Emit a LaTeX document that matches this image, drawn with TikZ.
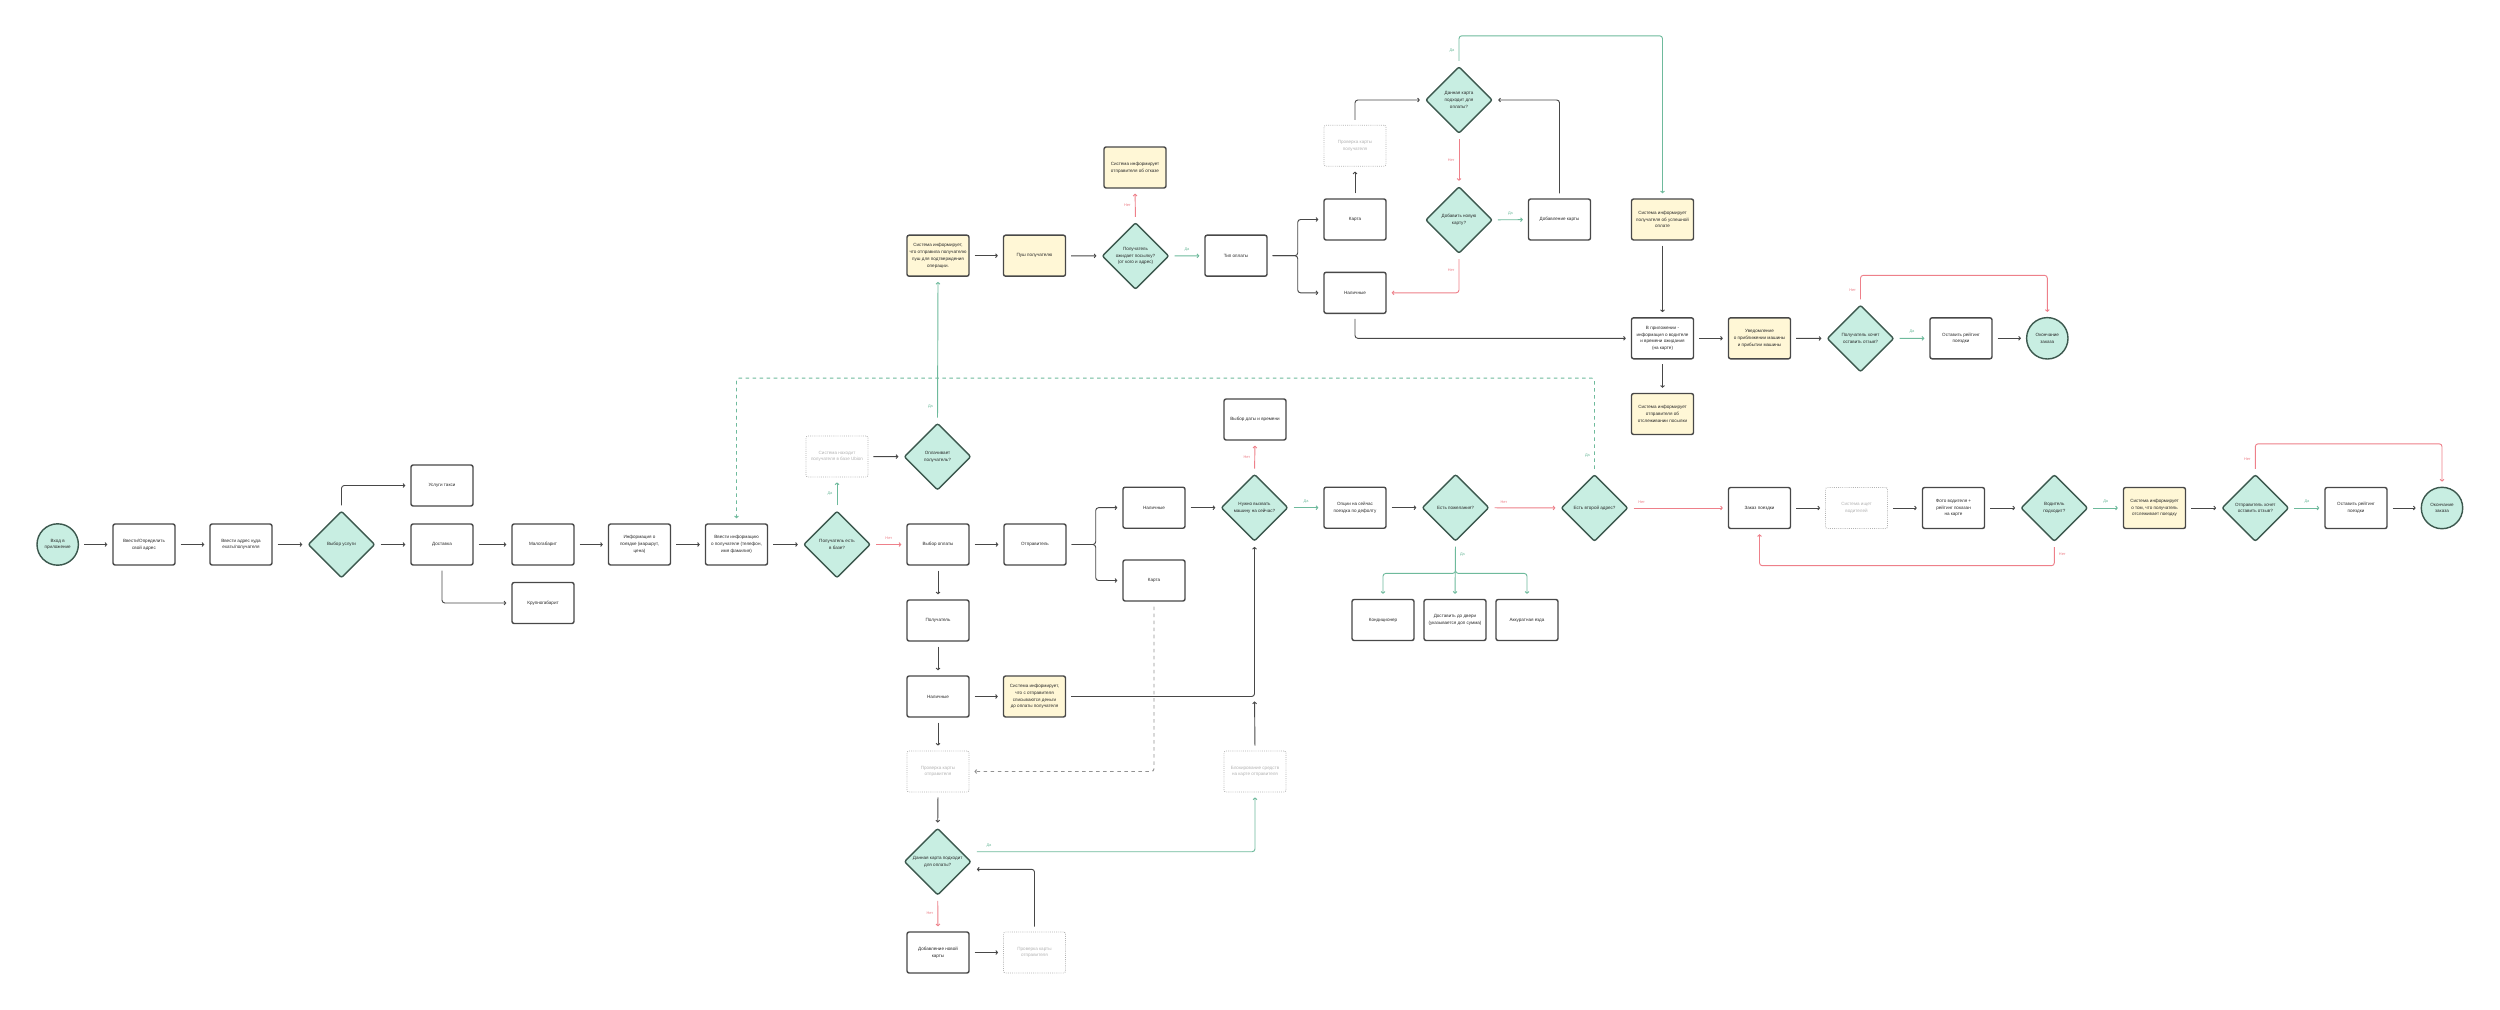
\documentclass[tikz,border=0pt]{standalone}
\usepackage{fontspec}
\setmainfont{Liberation Sans}
\usetikzlibrary{shapes.geometric, arrows.meta, calc}
\definecolor{fcline}{RGB}{72,72,72}
\definecolor{fctext}{RGB}{40,40,40}
\definecolor{fcmint}{RGB}{200,238,226}
\definecolor{fcmintdraw}{RGB}{60,88,78}
\definecolor{fcyellow}{RGB}{255,247,214}
\definecolor{fcgreen}{RGB}{110,186,156}
\definecolor{fcred}{RGB}{238,128,138}
\definecolor{fcghost}{RGB}{178,178,178}

\begin{document}
\begin{tikzpicture}[
		% 1 unit = 1 px of the layout
		x=0.05cm, y=-0.05cm,
		font=\fontsize{6.5}{9.6}\selectfont,
		% styles
		box/.style={rectangle, draw=fcline, line width=2pt, rounded corners=3pt, minimum width=3.1cm, minimum height=2.05cm, align=center, fill=white, text=fctext, inner sep=2pt},
		note/.style={box, fill=fcyellow},
		ghost/.style={box, draw=fcghost, text=fcghost, line width=1.2pt, dash pattern=on 1.2pt off 1.8pt},
		decision/.style={diamond, aspect=1, draw=fcmintdraw, fill=fcmint, line width=2pt, rounded corners=3pt, minimum width=3.35cm, minimum height=3.35cm, inner sep=0pt, align=center, text=fctext},
		terminal/.style={circle, draw=fcmintdraw, fill=fcmint, line width=2pt, minimum size=2.07cm, inner sep=0pt, align=center, text=fctext},
		arrow/.style={-{Straight Barb[length=2.5pt,width=5.5pt]}, line width=1.3pt, draw=fcline, rounded corners=4pt, shorten <=7pt, shorten >=7pt},
		yes/.style={arrow, draw=fcgreen},
		no/.style={arrow, draw=fcred},
		yesdash/.style={yes, dash pattern=on 5pt off 5pt},
		greydash/.style={arrow, draw=fcline!60, dash pattern=on 5pt off 5pt},
		lbl/.style={font=\fontsize{5.5}{6}\selectfont, inner sep=1pt},
		yeslbl/.style={lbl, text=fcgreen},
		nolbl/.style={lbl, text=fcred}
		]
		
		\fill[white, use as bounding box] (0,0) rectangle (2500,1010);
		
		% ==========================================
		% Начало: адрес и услуга
		% ==========================================
		\node[terminal] (start) at (57.7,544.5) {Вход в\\приложение};
		\node[box] (myaddr) at (144,544.5) {Ввести/Определить\\свой адрес};
		\node[box] (destaddr) at (241,544.5) {Ввести адрес куда\\ехать/получателя};
		\node[decision] (service) at (341.5,544.5) {Выбор услуги};
		\node[box] (taxi) at (442,485.5) {Услуги такси};
		\node[box] (delivery) at (442,544.5) {Доставка};
		\node[box] (small) at (543,544.5) {Малогабарит};
		\node[box] (large) at (543,603) {Крупногабарит};
		\node[box] (tripinfo) at (639.5,544.5) {Информация о\\поездке (маршрут,\\цена)};
		\node[box] (recipinfo) at (736.5,544.5) {Ввести информацию\\о получателе (телефон,\\имя фамилия)};
		
		\draw[arrow] (start) -- (myaddr);
		\draw[arrow] (myaddr) -- (destaddr);
		\draw[arrow] (destaddr) -- (service);
		\draw[arrow] (service) -- (delivery);
		\draw[arrow] (service.north) |- (taxi.west);
		\draw[arrow] (delivery) -- (small);
		\draw[arrow] (delivery.south) |- (large.west);
		\draw[arrow] (small) -- (tripinfo);
		\draw[arrow] (tripinfo) -- (recipinfo);
		
		% ==========================================
		% Получатель в базе / кто платит
		% ==========================================
		\node[decision] (inbase) at (837,544.5) {Получатель есть\\в базе?};
		\node[ghost] (found) at (837,456.5) {Система находит\\получателя в базе Ubion};
		\node[decision] (recippays) at (937.5,456.7) {Оплачивает\\получатель?};
		\node[note] (pushinfo) at (938,255.7) {Система информирует,\\что отправила получателю\\пуш для подтверждения\\операции.};
		\node[note] (push) at (1034.5,255.7) {Пуш получателю};
		\node[decision] (expects) at (1135.5,256) {Получатель\\ожидает посылку?\\(от кого и адрес)};
		\node[note] (refuse) at (1135,167.5) {Система информирует\\отправителя об отказе};
		\node[box] (paytype) at (1236,255.7) {Тип оплаты};
		
		\draw[arrow] (recipinfo) -- (inbase);
		\draw[yes] (inbase.north) -- node[yeslbl, left=5pt] (y-inbase) {Да} (found.south);
		\draw[arrow] (found) -- (recippays);
		\draw[yes] (recippays.north) -- node[yeslbl, pos=0.11, left=5pt] (y-recippays) {Да} (pushinfo.south);
		\draw[arrow] (pushinfo) -- (push);
		\draw[arrow] (push) -- (expects);
		\draw[no] (expects.north) -- node[nolbl, left=5pt] (n-expects) {Нет} (refuse.south);
		\draw[yes] (expects) -- node[yeslbl, above=5pt] (y-expects) {Да} (paytype);
		
		% ==========================================
		% Оплата получателем
		% ==========================================
		\node[box] (rcard) at (1355,219.5) {Карта};
		\node[box] (rcash) at (1355,292.8) {Наличные};
		\node[ghost] (rcheck) at (1355,145.7) {Проверка карты\\получателя};
		\node[decision] (rcardok) at (1459,100) {Данная карта\\подходит для\\оплаты?};
		\node[decision] (raddnew) at (1459,220) {Добавить новую\\карту?};
		\node[box] (raddcard) at (1559.5,219.5) {Добавление карты};
		\node[note] (paidinfo) at (1662.5,219.5) {Система информирует\\получателя об успешной\\оплате};
		
		\draw[arrow] (paytype.east) -- ++(30,0) |- (rcard.west);
		\draw[arrow] (paytype.east) -- ++(30,0) |- (rcash.west);
		\draw[arrow] (rcard.north) -- (rcheck.south);
		\draw[arrow] (rcheck.north) |- (rcardok.west);
		\draw[no] (rcardok.south) -- node[nolbl, left=5pt] (n-rcardok) {Нет} (raddnew.north);
		\draw[yes] (raddnew) -- node[yeslbl, above=5pt] (y-raddnew) {Да} (raddcard);
		\draw[arrow] (raddcard.north) |- (rcardok.east);
		\draw[no] (raddnew.south) |- node[nolbl, pos=0.21, left=5pt] (n-raddnew) {Нет} (rcash.east);
		\draw[yes] (rcardok.north) -- node[yeslbl, left=5pt] (y-rcardok) {Да} ++(0,-30) -| (paidinfo.north);
		
		% ==========================================
		% Отслеживание и отзыв получателя
		% ==========================================
		\node[box] (appinfo) at (1662.5,338.3) {В приложении -\\информация о водителе\\и времени ожидания\\(на карте)};
		\node[note] (trackinfo) at (1662.5,414) {Система информирует\\отправителя об\\отслеживании посылки};
		\node[note] (approach) at (1759.5,338.3) {Уведомление\\о приближении машины\\и прибытии машины};
		\node[decision] (rfeedback) at (1860.5,338.5) {Получатель хочет\\оставить отзыв?};
		\node[box] (rrate) at (1961,338.3) {Оставить рейтинг\\поездки};
		\node[terminal] (rend) at (2047.3,338.3) {Окончание\\заказа};
		
		\draw[arrow] (paidinfo.south) -- (appinfo.north);
		\draw[arrow] (rcash.south) |- (appinfo.west);
		\draw[arrow] (appinfo.south) -- (trackinfo.north);
		\draw[arrow] (appinfo) -- (approach);
		\draw[arrow] (approach) -- (rfeedback);
		\draw[yes] (rfeedback) -- node[yeslbl, above=5pt] (y-rfeedback) {Да} (rrate);
		\draw[arrow] (rrate) -- (rend);
		\draw[no] (rfeedback.north) -- node[nolbl, left=5pt] (n-rfeedback) {Нет} ++(0,-29) -| (rend.north);
		
		% ==========================================
		% Оплата отправителем
		% ==========================================
		\node[box] (choosepay) at (938,544.5) {Выбор оплаты};
		\node[box] (sender) at (1035,544.5) {Отправитель};
		\node[box] (scash) at (1154,507.7) {Наличные};
		\node[box] (scard) at (1154,580.5) {Карта};
		\node[box] (recipient) at (938,620.5) {Получатель};
		\node[box] (cash) at (938,696.5) {Наличные};
		\node[note] (debit) at (1034.5,696.5) {Система информирует,\\что с отправителя\\списываются деньги\\до оплаты получателя};
		\node[ghost] (scheck) at (938,771.5) {Проверка карты\\отправителя};
		\node[decision] (scardok) at (937.7,861.7) {Данная карта подходит\\для оплаты?};
		\node[box] (saddnew) at (938,952.5) {Добавление новой\\карты};
		\node[ghost] (scheck2) at (1034.5,952.5) {Проверка карты\\отправителя};
		\node[ghost] (block) at (1255,771.5) {Блокирование средств\\на карте отправителя};
		\coordinate (joint) at (1254.5,696.5);
		
		\draw[no] (inbase) -- node[nolbl, above=5pt] (n-inbase) {Нет} (choosepay);
		\draw[arrow] (choosepay) -- (sender);
		\draw[arrow] (sender.east) -- ++(29,0) |- (scash.west);
		\draw[arrow] (sender.east) -- ++(29,0) |- (scard.west);
		\draw[arrow] (choosepay.south) -- (recipient.north);
		\draw[arrow] (recipient.south) -- (cash.north);
		\draw[arrow] (cash) -- (debit);
		\draw[arrow] (cash.south) -- (scheck.north);
		\draw[greydash] (scard.south) |- (scheck.east);
		\draw[arrow] (scheck.south) -- (scardok.north);
		\draw[no] (scardok.south) -- node[nolbl, left=5pt] (n-scardok) {Нет} (saddnew.north);
		\draw[arrow] (saddnew) -- (scheck2);
		\draw[arrow] (scheck2.north) |- ($(scardok.east)+(0,7.6)$);
		\draw[yes] ($(scardok.east)+(0,-10)$) -| node[yeslbl, pos=0.03, above=5pt] (y-scardok) {Да} (block.south);
		\draw[arrow] (block.north) -- (joint);
		
		% ==========================================
		% Вызов машины и пожелания
		% ==========================================
		\node[decision] (callnow) at (1254.5,507.7) {Нужно вызвать\\машину на сейчас?};
		\node[box] (datetime) at (1255,419.5) {Выбор даты и времени};
		\node[box] (options) at (1355,507.7) {Опции на сейчас\\поездка по дефолту};
		\node[decision] (wishes) at (1455.5,507.7) {Есть пожелания?};
		\node[box] (cond) at (1383,620) {Кондиционер};
		\node[box] (door) at (1455,620) {Доставить до двери\\(указывается доп сумма)};
		\node[box] (careful) at (1527,620) {Аккуратная езда};
		\node[decision] (second) at (1594.5,508) {Есть второй адрес?};
		
		\draw[arrow] (scash) -- (callnow);
		\draw[arrow] (debit.east) -| (callnow.south);
		\draw[no] (callnow.north) -- node[nolbl, left=5pt] (n-callnow) {Нет} (datetime.south);
		\draw[yes] (callnow) -- node[yeslbl, above=5pt] (y-callnow) {Да} (options);
		\draw[arrow] (options) -- (wishes);
		\draw[yes] (wishes.south) -- node[yeslbl, pos=0.23, right=5pt] (y-wishes) {Да} (door.north);
		\draw[yes] (wishes.south) -- ++(0,31.5) -| (cond.north);
		\draw[yes] (wishes.south) -- ++(0,31.5) -| (careful.north);
		\draw[no] (wishes) -- node[nolbl, pos=0.2, above=5pt] (n-wishes) {Нет} (second);
		\draw[yesdash] (second.north) -- node[yeslbl, pos=0.19, left=5pt] (y-second) {Да} ++(0,-95.7) -| (recipinfo.north);
		
		% ==========================================
		% Заказ поездки и отзыв отправителя
		% ==========================================
		\node[box] (order) at (1759.5,508) {Заказ поездки};
		\node[ghost] (search) at (1856.5,508) {Система ищет\\водителей};
		\node[box] (photo) at (1953.5,508) {Фото водителя +\\рейтинг показан\\на карте};
		\node[decision] (driverok) at (2054.3,508) {Водитель\\подходит?};
		\node[note] (drivertrack) at (2154.5,508) {Система информирует\\о том, что получатель\\отслеживает поездку};
		\node[decision] (sfeedback) at (2255.3,508) {Отправитель хочет\\оставить отзыв?};
		\node[box] (srate) at (2356,508) {Оставить рейтинг\\поездки};
		\node[terminal] (send) at (2442,508) {Окончание\\заказа};
		
		\draw[no] (second) -- node[nolbl, pos=0.13, above=5pt] (n-second) {Нет} (order);
		\draw[arrow] (order) -- (search);
		\draw[arrow] (search) -- (photo);
		\draw[arrow] (photo) -- (driverok);
		\draw[no] (driverok.south) -- node[nolbl, right=5pt] (n-driverok) {Нет} ++(0,23.5) -| (order.south);
		\draw[yes] (driverok) -- node[yeslbl, above=5pt] (y-driverok) {Да} (drivertrack);
		\draw[arrow] (drivertrack) -- (sfeedback);
		\draw[yes] (sfeedback) -- node[yeslbl, above=5pt] (y-sfeedback) {Да} (srate);
		\draw[arrow] (srate) -- (send);
		\draw[no] (sfeedback.north) -- node[nolbl, left=5pt] (n-sfeedback) {Нет} ++(0,-30) -| (send.north);
		
	\end{tikzpicture}
\end{document}
